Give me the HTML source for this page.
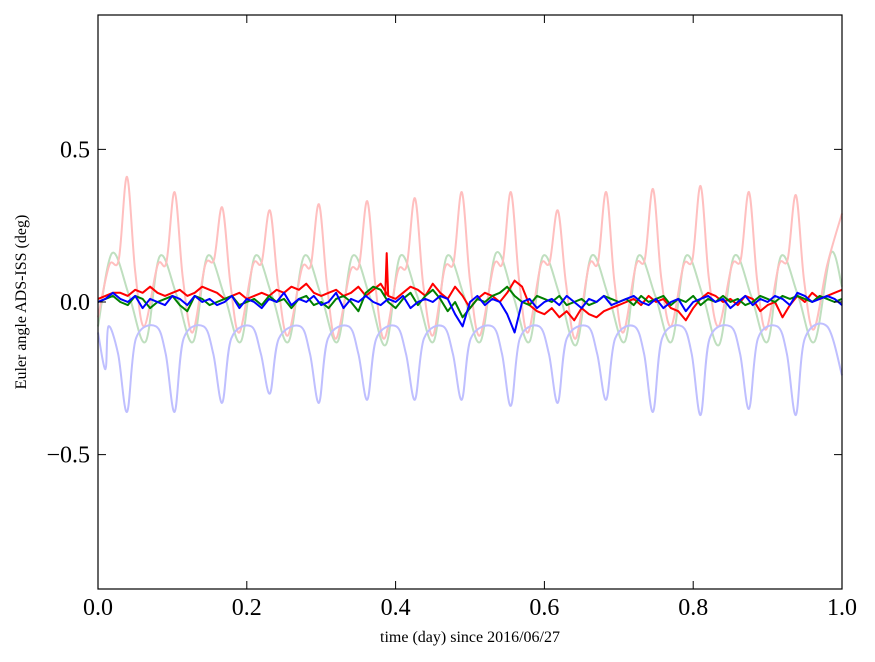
<!DOCTYPE html>
<html><head><meta charset="utf-8"><style>
body{margin:0;background:#fff;width:875px;height:662px;overflow:hidden}
svg{display:block}
</style></head><body>
<svg id="chart" width="875" height="662" xmlns="http://www.w3.org/2000/svg" font-family="'Liberation Serif', serif">
<rect x="0" y="0" width="875" height="662" fill="#fff"/>
<g id="series"></g>
<rect x="98" y="15" width="744" height="574" fill="none" stroke="#000" stroke-width="1.2"/>
<g id="ticks"></g>
<text x="470" y="642" font-size="16" text-anchor="middle">time (day) since 2016/06/27</text>
<text transform="translate(26,302) rotate(-90)" font-size="16" text-anchor="middle">Euler angle ADS-ISS (deg)</text>
</svg>
<script>
const xTicks=[0,0.2,0.4,0.6,0.8,1.0];
const xTickLabels=["0.0","0.2","0.4","0.6","0.8","1.0"];
const yTicks=[-0.5,0,0.5];
const yTickLabels=["\u22120.5","0.0","0.5"];
const redFaintX=[0,0.015,0.028,0.039,0.05,0.062,0.08,0.092,0.103,0.114,0.127,0.144,0.156,0.167,0.178,0.19,0.208,0.22,0.231,0.242,0.255,0.274,0.286,0.297,0.308,0.32,0.339,0.351,0.362,0.373,0.385,0.403,0.415,0.426,0.437,0.45,0.466,0.478,0.489,0.5,0.513,0.532,0.544,0.555,0.566,0.578,0.595,0.607,0.618,0.629,0.642,0.66,0.672,0.683,0.694,0.706,0.723,0.735,0.746,0.757,0.77,0.787,0.799,0.81,0.821,0.834,0.852,0.864,0.875,0.886,0.898,0.915,0.927,0.938,0.949,0.962,0.98,1.0];
const redFaintY=[-0.05,0.12,0.14,0.41,0.10,-0.08,0.12,0.13,0.36,0.08,-0.10,0.12,0.14,0.31,0.06,-0.10,0.12,0.13,0.30,0.06,-0.11,0.11,0.12,0.32,0.05,-0.12,0.10,0.12,0.33,0.05,-0.12,0.10,0.12,0.34,0.06,-0.11,0.11,0.13,0.36,0.07,-0.11,0.12,0.13,0.36,0.07,-0.10,0.12,0.13,0.30,0.06,-0.12,0.12,0.13,0.36,0.07,-0.10,0.12,0.14,0.37,0.08,-0.08,0.12,0.14,0.38,0.08,-0.08,0.12,0.14,0.36,0.07,-0.09,0.12,0.14,0.35,0.07,-0.09,0.12,0.29];
const blueFaintX=[0,0.01,0.014,0.027,0.039,0.051,0.078,0.091,0.103,0.115,0.142,0.155,0.167,0.179,0.206,0.219,0.231,0.243,0.272,0.285,0.297,0.309,0.337,0.35,0.362,0.374,0.401,0.414,0.426,0.438,0.464,0.477,0.489,0.501,0.53,0.543,0.555,0.567,0.593,0.606,0.618,0.63,0.658,0.671,0.683,0.695,0.721,0.734,0.746,0.758,0.785,0.798,0.81,0.822,0.85,0.863,0.875,0.887,0.913,0.926,0.938,0.95,0.98,1.0];
const blueFaintY=[-0.10,-0.22,-0.08,-0.17,-0.36,-0.12,-0.08,-0.17,-0.36,-0.12,-0.08,-0.17,-0.33,-0.12,-0.08,-0.17,-0.30,-0.12,-0.08,-0.17,-0.33,-0.12,-0.08,-0.17,-0.32,-0.12,-0.08,-0.17,-0.32,-0.12,-0.08,-0.17,-0.32,-0.12,-0.08,-0.17,-0.34,-0.12,-0.08,-0.17,-0.33,-0.12,-0.08,-0.17,-0.32,-0.12,-0.08,-0.17,-0.36,-0.12,-0.08,-0.17,-0.37,-0.12,-0.08,-0.17,-0.35,-0.12,-0.08,-0.17,-0.37,-0.12,-0.08,-0.24];
const greenFaintX=[0,0.019,0.042,0.064,0.083,0.106,0.128,0.147,0.17,0.192,0.211,0.234,0.256,0.277,0.3,0.322,0.342,0.365,0.387,0.406,0.429,0.451,0.469,0.492,0.514,0.535,0.558,0.58,0.598,0.621,0.643,0.663,0.686,0.708,0.726,0.749,0.771,0.79,0.813,0.835,0.855,0.878,0.9,0.918,0.941,0.963,0.985,1.0];
const greenFaintY=[-0.08,0.16,0.02,-0.13,0.15,0.02,-0.13,0.15,0.02,-0.13,0.15,0.02,-0.13,0.15,0.02,-0.13,0.15,0.02,-0.14,0.15,0.02,-0.13,0.15,0.02,-0.13,0.16,0.02,-0.13,0.15,0.02,-0.14,0.15,0.02,-0.13,0.15,0.02,-0.13,0.15,0.02,-0.14,0.15,0.02,-0.13,0.15,0.02,-0.13,0.16,0.05];
const redValues=[0.01,0.02,0.03,0.03,0.02,0.04,0.03,0.05,0.03,0.02,0.03,0.04,0.02,0.03,0.05,0.04,0.03,0.01,0.02,0.03,0.01,0.02,0.03,0.02,0.04,0.03,0.05,0.04,0.06,0.03,0.02,0.03,0.04,0.02,0.03,0.05,0.02,0.04,0.06,0.02,0.01,0.03,0.05,0.04,0.02,0.06,0.03,0.01,0.05,0.02,-0.02,0.01,0.03,0.02,0.00,0.03,0.07,0.05,-0.01,-0.03,-0.04,-0.02,-0.05,-0.03,-0.06,-0.02,-0.04,-0.05,-0.03,-0.02,-0.01,0.00,0.01,-0.01,0.02,0.00,0.01,-0.02,-0.03,-0.06,-0.02,0.01,0.03,0.02,0.00,0.01,-0.01,0.02,0.01,-0.03,-0.01,0.00,-0.05,-0.01,0.02,0.00,0.03,0.01,0.02,0.03,0.04];
const greenValues=[0.00,0.01,0.02,0.00,-0.01,0.02,0.01,-0.02,0.00,0.01,0.02,-0.01,-0.03,0.02,0.01,-0.01,0.00,0.01,0.02,-0.01,0.00,0.01,-0.01,0.02,0.00,0.01,-0.02,0.01,0.02,-0.01,0.00,-0.02,0.01,0.02,0.00,-0.03,0.03,0.05,0.04,0.00,-0.02,0.01,0.03,-0.01,0.02,0.04,0.01,-0.03,0.00,-0.05,-0.02,0.01,0.00,0.02,0.03,0.05,0.02,0.00,-0.01,0.02,0.01,0.00,0.02,-0.01,0.00,0.01,-0.01,0.00,0.02,0.01,0.00,0.01,-0.01,0.02,0.00,0.01,0.02,-0.01,0.01,0.00,0.02,-0.01,0.01,0.00,0.02,0.00,0.01,-0.01,0.00,0.02,0.01,0.00,0.02,0.01,0.02,0.01,0.00,0.02,0.01,0.00,0.01];
const blueValues=[0.00,0.01,0.03,0.01,0.00,0.02,-0.02,0.01,0.00,-0.01,0.02,0.01,-0.01,0.02,0.00,0.01,-0.01,0.00,0.02,-0.02,0.01,0.00,-0.02,0.01,0.00,0.03,-0.01,0.01,0.00,0.02,-0.01,0.00,0.03,-0.02,0.01,0.00,0.02,0.00,-0.01,0.01,0.00,0.02,-0.02,0.00,0.01,0.00,0.02,0.01,-0.04,-0.08,0.00,0.02,-0.01,0.01,0.00,-0.04,-0.10,0.00,0.01,-0.02,0.00,0.01,-0.01,0.02,0.00,-0.02,0.01,0.00,0.02,-0.01,0.00,0.01,0.02,0.00,-0.01,0.01,-0.02,0.00,0.01,-0.03,0.00,0.01,0.02,0.00,0.01,-0.02,0.00,0.02,-0.01,0.01,0.00,0.02,0.01,-0.01,0.03,0.02,0.00,0.01,0.02,0.01,-0.01];
const spikeX=[0.386,0.388,0.39];
const spikeY=[0.02,0.16,0.02];

const X0=98,X1=842,Y0=15,Y1=589,YMIN=-0.94,YMAX=0.94;
const sx=v=>X0+(v-0)/(1-0)*(X1-X0);
const sy=v=>Y1-(v-YMIN)/(YMAX-YMIN)*(Y1-Y0);
const NS="http://www.w3.org/2000/svg";
const g=document.getElementById('series');
function pathD(xs,ys,smooth){
  const P=xs.map((x,i)=>[sx(x),sy(ys[i])]);
  if(!smooth) return P.map((p,i)=>(i?'L':'M')+p[0].toFixed(1)+' '+p[1].toFixed(1)).join('');
  let d='M'+P[0][0].toFixed(1)+' '+P[0][1].toFixed(1);
  for(let i=0;i<P.length-1;i++){
    const p0=P[Math.max(0,i-1)],p1=P[i],p2=P[i+1],p3=P[Math.min(P.length-1,i+2)];
    const c1=[p1[0]+(p2[0]-p0[0])/6,p1[1]+(p2[1]-p0[1])/6];
    const c2=[p2[0]-(p3[0]-p1[0])/6,p2[1]-(p3[1]-p1[1])/6];
    d+=`C${c1[0].toFixed(1)} ${c1[1].toFixed(1)} ${c2[0].toFixed(1)} ${c2[1].toFixed(1)} ${p2[0].toFixed(1)} ${p2[1].toFixed(1)}`;
  }
  return d;
}
function line(xs,ys,color,name,smooth){
  const p=document.createElementNS(NS,'path');
  p.setAttribute('d',pathD(xs,ys,smooth));
  p.setAttribute('fill','none');p.setAttribute('stroke',color);p.setAttribute('stroke-width','2');
  p.setAttribute('stroke-linejoin','round');
  
  
  g.appendChild(p);
}
const idx=redValues.map((_,i)=>i/(redValues.length-1));
line(greenFaintX,greenFaintY,'#bfdfbf','green-faint-line',true);
line(redFaintX,redFaintY,'#ffbfbf','red-faint-line',true);
line(blueFaintX,blueFaintY,'#bfbfff','blue-faint-line',true);
line(idx,redValues,'#ff0000','red-line',false);
line(spikeX,spikeY,'#ff0000','red-spike',false);
line(idx,greenValues,'#008000','green-line',false);
line(idx,blueValues,'#0000ff','blue-line',false);

const t=document.getElementById('ticks');
xTicks.forEach((v,i)=>{
  const x=sx(v);
  const a=document.createElementNS(NS,'path');
  a.setAttribute('d',`M${x} ${Y1}V${Y1-8}M${x} ${Y0}V${Y0+8}`);
  a.setAttribute('stroke','#000');a.setAttribute('stroke-width','1');
  
  
  t.appendChild(a);
  const tx=document.createElementNS(NS,'text');
  tx.setAttribute('x',x);tx.setAttribute('y',Y1+26);tx.setAttribute('font-size','24');tx.setAttribute('text-anchor','middle');
  tx.textContent=xTickLabels[i];
  
  
  t.appendChild(tx);
});
yTicks.forEach((v,i)=>{
  const y=sy(v);
  const a=document.createElementNS(NS,'path');
  a.setAttribute('d',`M${X0} ${y}H${X0+8}M${X1} ${y}H${X1-8}`);
  a.setAttribute('stroke','#000');a.setAttribute('stroke-width','1');
  
  
  t.appendChild(a);
  const tx=document.createElementNS(NS,'text');
  tx.setAttribute('x',X0-8);tx.setAttribute('y',y+8);tx.setAttribute('font-size','24');tx.setAttribute('text-anchor','end');
  tx.textContent=yTickLabels[i];
  
  
  t.appendChild(tx);
});
</script>
</body></html>
